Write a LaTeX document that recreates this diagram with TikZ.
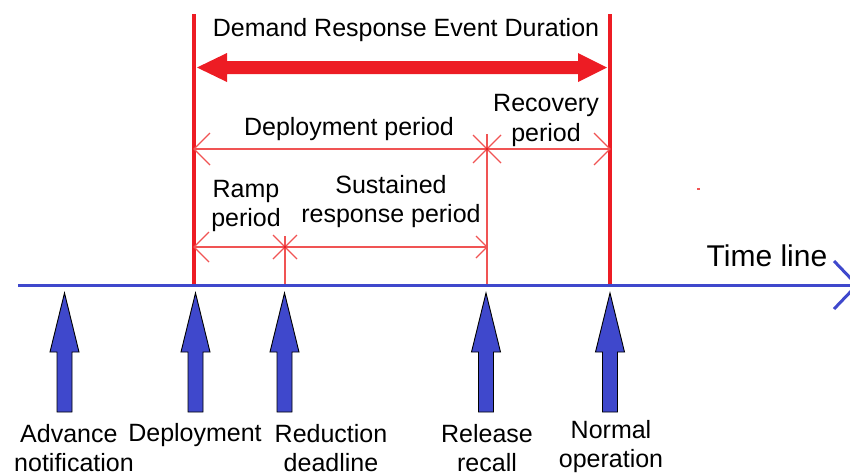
\documentclass[tikz,border=0pt]{standalone}
\usepackage{fontspec}
\setmainfont{Liberation Sans}
\definecolor{evred}{HTML}{ED1C24}
\definecolor{thinred}{HTML}{F05454}
\definecolor{tlblue}{HTML}{3F48CC}
\begin{document}
\begin{tikzpicture}[x=1pt,y=-1pt,
  lbl/.style={font=\fontsize{25}{29}\selectfont, align=center, inner sep=0pt},
  spanline/.style={draw=thinred, line width=1.1pt},
  eventline/.style={draw=evred, line width=3.5pt},
  upmark/.style={draw=black, line width=0.9pt, fill=tlblue, line join=miter},
]
\useasboundingbox (0,0) rectangle (850,475);
\clip (0,0) rectangle (850,475);

% key points
\coordinate (evL) at (194,14);
\coordinate (evR) at (610,14);
\coordinate (evLb) at (194,285);
\coordinate (evRb) at (610,285);
\coordinate (depL) at (194,149);
\coordinate (depM) at (487,149);
\coordinate (depR) at (610,149);
\coordinate (depMtop) at (487,134);
\coordinate (depMb) at (487,285);
\coordinate (rampL) at (194,247);
\coordinate (rampM) at (285,247);
\coordinate (rampR) at (487,247);
\coordinate (rampMtop) at (285,236);
\coordinate (rampMb) at (285,285);
\coordinate (tlL) at (18,285);
\coordinate (tlR) at (857,285);

% event boundaries
\draw[eventline] (evL) -- (evLb);
\draw[eventline] (evR) -- (evRb);

% event duration double arrow
\fill[evred] (197,67.5) -- (227,53) -- (227,61) -- (578,61) -- (578,53) -- (607,67.5)
  -- (578,82) -- (578,74) -- (227,74) -- (227,82) -- cycle;

% period spans
\draw[spanline] (depL) -- (depR);
\draw[spanline] (rampL) -- (rampR);
\draw[spanline] (depMtop) -- (depMb);
\draw[spanline] (rampMtop) -- (rampMb);
% open arrow ends
\draw[spanline] (depL) ++(16,-16) -- (depL) -- ++(16,16);
\draw[spanline] (depR) ++(-16,-16) -- (depR) -- ++(-16,16);
\draw[spanline] (rampL) ++(15,-15) -- (rampL) -- ++(15,15);
\draw[spanline] (rampR) ++(-11,-11) -- (rampR) -- ++(-11,11);
% star junctions
\draw[spanline] (depM) ++(-14,-14) -- ++(28,28) (depM) ++(14,-14) -- ++(-28,28);
\draw[spanline] (rampM) ++(-12,-12) -- ++(24,24) (rampM) ++(12,-12) -- ++(-24,24);
\fill[evred] (depM) circle (1.6);
\fill[evred] (rampM) circle (1.6);

% time line
\draw[tlblue, line width=3pt] (tlL) -- (tlR);
\draw[tlblue, line width=3pt] (834,261) -- (tlR) -- (834,309);

% stray mark
\fill[thinred] (697,188) rectangle (700,190);

% milestone arrows
\foreach \n/\x in {adv/64.5, dep/195.5, red/284.5, rel/486, nor/610}{
  \draw[upmark] (\x,293) -- (\x+14.5,352) -- (\x+7.5,352) -- (\x+7.5,412)
    -- (\x-7.5,412) -- (\x-7.5,352) -- (\x-14.5,352) -- cycle;
  \coordinate (tip-\n) at (\x,293);
}

% labels
\node[lbl] (title) at (406,30) {Demand Response Event Duration};
\node[lbl] (deploy) at (349,129) {Deployment period};
\node[lbl, font=\fontsize{25}{30}\selectfont] (recov) at (546,120) {Recovery\\period};
\node[lbl] (ramp) at (246,206) {Ramp\\period};
\node[lbl] (sust) at (391,202) {Sustained\\response period};
\node[lbl, font=\fontsize{30}{34}\selectfont] (tline) at (767,256) {Time line};
\node[lbl, align=left, anchor=west] (lAdv) at (14,448) {\hspace{6pt}Advance\\notification};
\node[lbl] (lDep) at (195,435) {Deployment};
\node[lbl] (lRed) at (331,448) {Reduction\\deadline};
\node[lbl] (lRel) at (487,448) {Release\\recall};
\node[lbl] (lNor) at (611,447) {Normal\\operation};
\end{tikzpicture}
\end{document}
